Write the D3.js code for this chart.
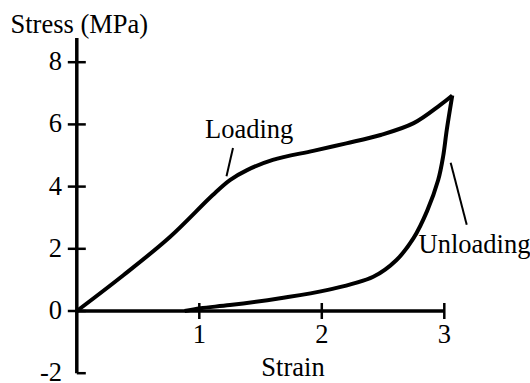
<!DOCTYPE html>
<html>
<head>
<meta charset="utf-8">
<script src="https://cdn.jsdelivr.net/npm/d3@7"></script>
<style>
  body { margin: 0; background: #fff; }
</style>
</head>
<body>
<svg id="chart" width="530" height="383"></svg>
<script>
// strain / stress readings for the two branches of the loop
const loadingStrain = [0, 0.38, 0.76, 1.11, 1.25, 1.39, 1.60, 1.93, 2.20, 2.48, 2.75, 2.965, 3.065];
const loadingStress = [0, 1.15, 2.38, 3.73, 4.21, 4.53, 4.86, 5.15, 5.39, 5.66, 6.04, 6.62, 6.93];

const unloadingStrain = [0.88, 1.01, 1.25, 1.66, 2.04, 2.42, 2.61, 2.75, 2.86, 2.95, 2.99, 3.02, 3.065];
const unloadingStress = [0, 0.09, 0.19, 0.41, 0.67, 1.10, 1.64, 2.35, 3.22, 4.21, 4.96, 5.82, 6.93];

const xTicks = [1, 2, 3];
const yTicks = [-2, 0, 2, 4, 6, 8];

const xTitle = "Strain";
const yTitle = "Stress (MPa)";

// callouts: label, text anchor point, leader line start/end (data units)
const labels = [
  { text: "Loading", x: 1.047, y: 5.56, line: [[1.275, 5.24], [1.222, 4.33]] },
  { text: "Unloading", x: 2.79, y: 1.87, line: [[3.052, 4.77], [3.183, 2.77]] }
];

const FONT = 'Liberation Serif';
const FS = 26.5;

const svg = d3.select('#chart');

let x = d3.scaleLinear().domain([0, 3]).range([76.8, 444.3]);
let y = d3.scaleLinear().domain([-2, 8]).range([373.2, 62.2]);

function txt(sel) {
  return sel.attr('font-family', FONT).attr('font-size', FS).attr('fill', '#000');
}

// axes drawn by hand so ticks cross the line
svg.append('line')
  .attr('x1', x(0)).attr('x2', x(0))
  .attr('y1', y(-2)).attr('y2', y(8.78))
  .attr('stroke', '#000').attr('stroke-width', 3.5);

svg.append('line')
  .attr('x1', x(0)).attr('x2', x(3))
  .attr('y1', y(0)).attr('y2', y(0))
  .attr('stroke', '#000').attr('stroke-width', 3.5);

svg.selectAll('.ytick').data(yTicks).enter().append('line')
  .attr('class', 'ytick')
  .attr('x1', d => d == -2 ? x(0) : x(0) - 9)
  .attr('x2', x(0) + 9)
  .attr('y1', d => y(d)).attr('y2', d => y(d))
  .attr('stroke', '#000').attr('stroke-width', 2.5);

svg.selectAll('.ylab').data(yTicks).enter().append('text')
  .attr('class', 'ylab')
  .attr('x', 62)
  .attr('y', d => y(d))
  .attr('dy', '0.3em')
  .attr('text-anchor', 'end')
  .call(txt)
  .text(d => d);

svg.selectAll('.xtick').data(xTicks).enter().append('line')
  .attr('class', 'xtick')
  .attr('x1', d => x(d)).attr('x2', d => x(d))
  .attr('y1', y(0) - 8).attr('y2', y(0) + 8)
  .attr('stroke', '#000').attr('stroke-width', 2.5);

svg.selectAll('.xlab').data(xTicks).enter().append('text')
  .attr('class', 'xlab')
  .attr('x', d => x(d))
  .attr('y', 343)
  .attr('text-anchor', 'middle')
  .call(txt)
  .text(d => d);

svg.append('text').attr('x', 293).attr('y', 376).attr('text-anchor', 'middle').call(txt).text(xTitle);
svg.append('text').attr('x', 10.5).attr('y', 33).call(txt).text(yTitle);

// curves
let line = d3.line()
  .x(d => x(d[0]))
  .y(d => y(d[1]))
  .curve(d3.curveCatmullRom.alpha(0.5));

let loading = loadingStrain.map((s, i) => [s, loadingStress[i]]);
let unloading = unloadingStrain.map((s, i) => [s, unloadingStress[i]]);

svg.selectAll('.branch').data([loading, unloading]).enter().append('path')
  .attr('class', 'branch')
  .attr('d', line)
  .attr('fill', 'none')
  .attr('stroke', '#000')
  .attr('stroke-width', 4)
  .attr('stroke-linejoin', 'round');

// callouts
svg.selectAll('.leader').data(labels).enter().append('line')
  .attr('class', 'leader')
  .attr('x1', d => x(d.line[0][0])).attr('y1', d => y(d.line[0][1]))
  .attr('x2', d => x(d.line[1][0])).attr('y2', d => y(d.line[1][1]))
  .attr('stroke', '#000').attr('stroke-width', 2);

svg.selectAll('.callout').data(labels).enter().append('text')
  .attr('class', 'callout')
  .attr('x', d => x(d.x))
  .attr('y', d => y(d.y))
  .call(txt)
  .text(d => d.text);
</script>
</body>
</html>
